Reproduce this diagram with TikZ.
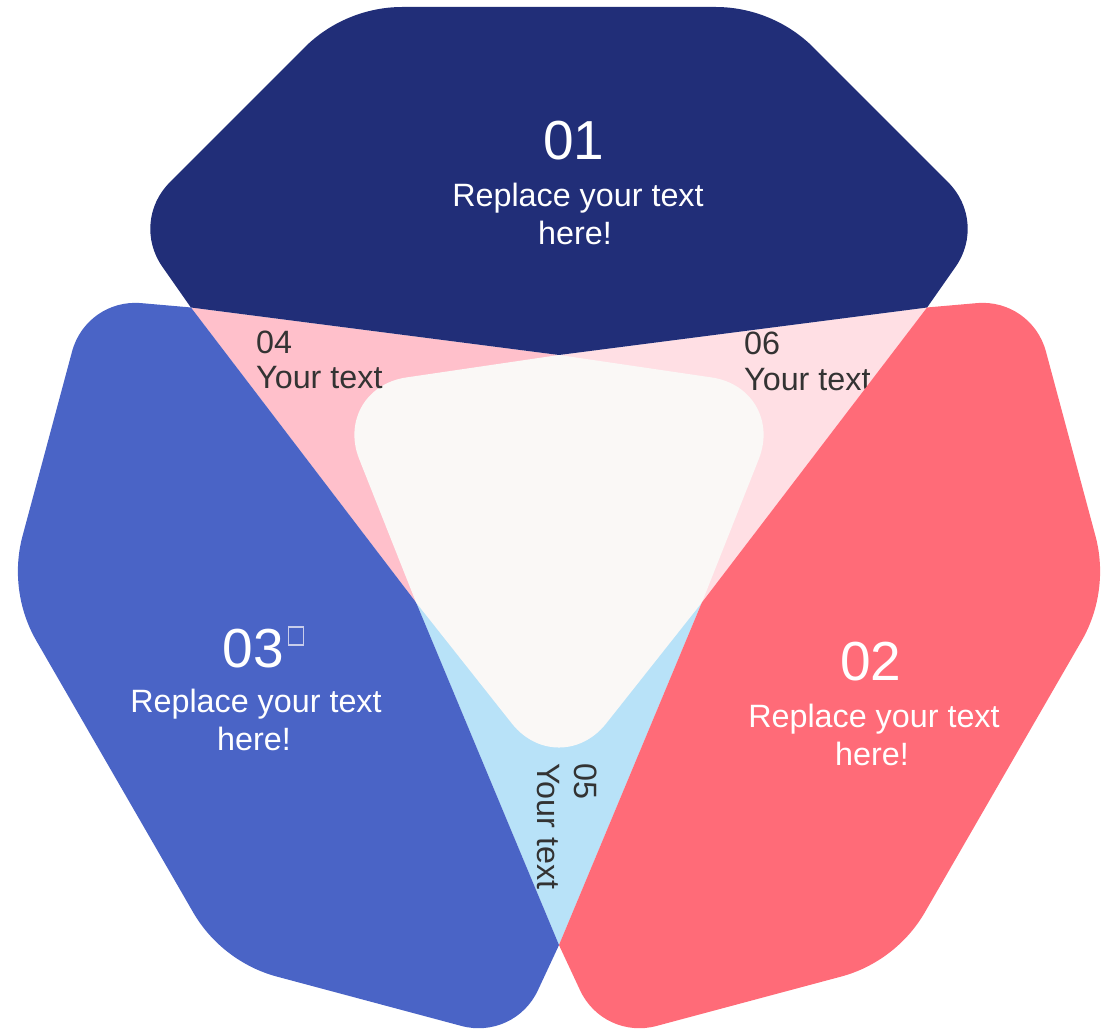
\documentclass[tikz,border=0pt]{standalone}
\usepackage{fontspec}
\setmainfont{Liberation Sans}
\usetikzlibrary{calc}
\definecolor{navy}{HTML}{212E78}
\definecolor{royal}{HTML}{4A64C6}
\definecolor{coral}{HTML}{FF6B78}
\definecolor{pinkA}{HTML}{FFC0CB}
\definecolor{pinkB}{HTML}{FFDFE4}
\definecolor{skyC}{HTML}{B8E2F8}
\definecolor{centre}{HTML}{FAF8F6}
\definecolor{labelgray}{HTML}{333333}
\definecolor{tofu}{HTML}{C8CDEB}
% rounded corner: prev, vertex, next, tangent length, control distance
\newcommand\rcorner[5]{-- ($#2!#4!#1$) .. controls ($#2!#5!#1$) and ($#2!#5!#3$) .. ($#2!#4!#3$)}
\newcommand\hexpath{(-368.1,212.5) -- (0,165) -- (368.1,212.5)
 \rcorner{(368.1,212.5)}{(428.3,298.5)}{(214,513)}{55pt}{23pt}
 \rcorner{(428.3,298.5)}{(214,513)}{(-214,513)}{57pt}{21pt}
 \rcorner{(214,513)}{(-214,513)}{(-428.3,298.5)}{57pt}{21pt}
 \rcorner{(-214,513)}{(-428.3,298.5)}{(-368.1,212.5)}{55pt}{23pt}
 -- cycle}
\newcommand\centrepath{(0,165)
 \rcorner{(0,165)}{(227.8,131.5)}{(142.9,-82.5)}{76pt}{35pt} -- (142.9,-82.5)
 \rcorner{(142.9,-82.5)}{(0,-263)}{(-142.9,-82.5)}{76pt}{35pt} -- (-142.9,-82.5)
 \rcorner{(-142.9,-82.5)}{(-227.8,131.5)}{(0,165)}{76pt}{35pt} -- cycle}
\tikzset{
 num/.style={text=white, font=\fontsize{55}{60}\selectfont, inner sep=0pt, anchor=base},
 body/.style={text=white, font=\fontsize{32.3}{38}\selectfont, inner sep=0pt, anchor=base},
 lab/.style={text=labelgray, font=\fontsize{32.3}{38}\selectfont, inner sep=0pt, anchor=base west},
 tofubox/.style={draw=tofu, line width=1.2pt}
}
\begin{document}
\begin{tikzpicture}[x=1pt,y=1pt]
\useasboundingbox (-559,-509) rectangle (553,520);
% triangular fields
\fill[pinkA] (-368.1,212.5) -- (0,165) -- (0,0) -- (-142.9,-82.5) -- cycle;
\fill[pinkB] (0,165) -- (368.1,212.5) -- (142.9,-82.5) -- (0,0) -- cycle;
\fill[skyC] (-142.9,-82.5) -- (0,0) -- (142.9,-82.5) -- (0,-425) -- cycle;
% hexagons
\fill[navy] \hexpath;
\begin{scope}[rotate=120]
 \fill[royal] \hexpath;
\end{scope}
% centre
\fill[centre] \centrepath;
% small labels
\node[lab] (l04a) at (-303,167) {04};
\node[lab] (l04b) at (-303,132) {Your text};
\node[lab] (l06a) at (185,165) {06};
\node[lab] (l06b) at (185,130) {Your text};
\node[lab, rotate=-90] (l05a) at (16,-243) {05};
\node[lab, rotate=-90] (l05b) at (-21,-243) {Your text};
% red hexagon over label 06
\begin{scope}[rotate=-120]
 \fill[coral] \hexpath;
\end{scope}
% main labels
\node[num] (n01) at (15,360) {01};
\node[body] (t01a) at (19,313) {Replace your text};
\node[body] (t01b) at (16,275) {here!};
\node[num] (n02) at (312,-160) {02};
\node[body] (t02a) at (315,-207) {Replace your text};
\node[body] (t02b) at (313,-245) {here!};
\node[num] (n03) at (-305.5,-147) {03};
\node[body] (t03a) at (-303,-192) {Replace your text};
\node[body] (t03b) at (-305,-230) {here!};
\draw[tofubox] ($(n03.base east)+(4,22)$) rectangle ++(15,18);
\end{tikzpicture}
\end{document}
